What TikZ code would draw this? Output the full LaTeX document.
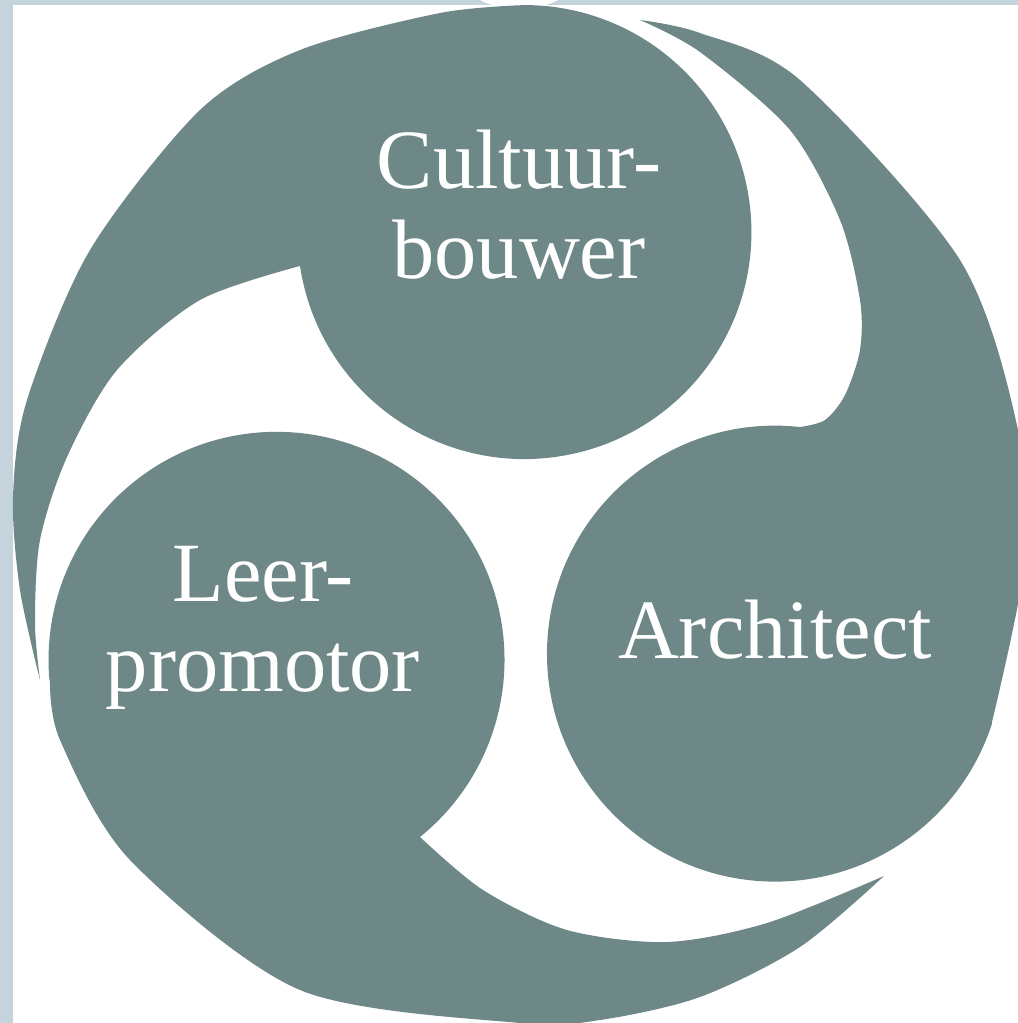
\documentclass[tikz,border=0pt]{standalone}
\usepackage{fontspec}
\setmainfont{Liberation Serif}
\tikzset{
  tomoe/.style={fill=tomoeteal},
  tomoelabel/.style={text=white,align=center,inner sep=0pt,font=\fontsize{24}{25.6}\selectfont},
}
\definecolor{tomoeteal}{HTML}{6E8888}
\definecolor{pageblue}{HTML}{C5D3DC}

\begin{document}
\begin{tikzpicture}[x=0.01cm, y=-0.01cm]

\useasboundingbox (0,0) rectangle (1018,1023);
\clip (0,0) rectangle (1018,1023);

\fill[pageblue] (0,0) rectangle (1018,1023);
\fill[white] (13,5) rectangle (1018,1023);
\fill[white] (519,-8) ellipse (45 and 16);

\fill[tomoe] (300,266) arc (171.4:-90:227)
  -- plot[smooth] coordinates {(526,5) (440,13) (300,50) (200,110) (90,250) (27,400) (13,497) (20,590) (40,680)}
  -- plot[smooth] coordinates {(40,680) (35,623) (40,540) (67,457) (117,370) (200,300) (300,266)}
  -- cycle;

\fill[tomoe] (800,427) arc (-83.7:-342:228)
  -- plot[smooth] coordinates {(992,722) (1025,560) (1018,430) (960,260) (800,80) (700,33) (640,20)}
  -- plot[smooth] coordinates {(640,20) (700,52) (790,130) (840,220) (860,300) (860,350) (845,395) (825,420) (800,427)}
  -- cycle;

\fill[tomoe] (420,837) arc (51:-185:228)
  -- plot[smooth] coordinates {(50,680) (60,740) (130,860) (300,990) (520,1023) (600,1020) (700,997) (800,947) (884,876)}
  -- plot[smooth] coordinates {(884,876) (767,923) (667,942) (567,930) (483,890) (420,837)}
  -- cycle;

\node[tomoelabel] (cultuur) at (519,205) {Cultuur-\\bouwer};
\node[tomoelabel] (leer) at (263,628) {Leer-\\promotor};
\node[tomoelabel] (architect) at (775,630) {Architect};

\end{tikzpicture}
\end{document}
